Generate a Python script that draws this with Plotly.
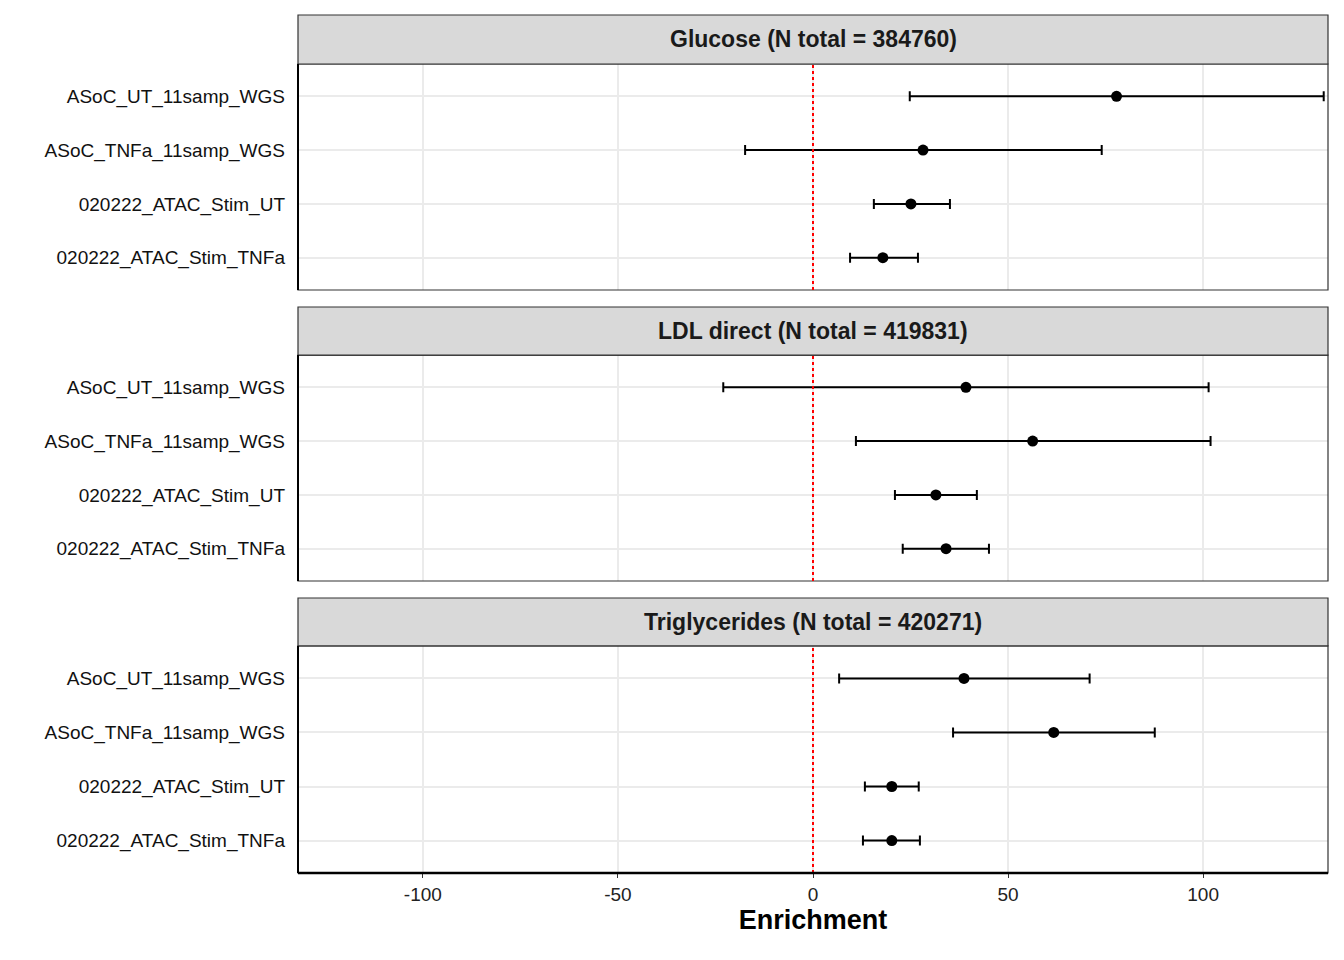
import plotly.graph_objects as go

# Data
samples = ["ASoC_UT_11samp_WGS", "ASoC_TNFa_11samp_WGS", "020222_ATAC_Stim_UT", "020222_ATAC_Stim_TNFa"]
traits = ["Glucose (N total = 384760)", "LDL direct (N total = 419831)", "Triglycerides (N total = 420271)"]
xticks = [-100, -50, 0, 50, 100]
xtick_labels = ["-100", "-50", "0", "50", "100"]

glucose_est = [77.8, 28.2, 25.1, 17.9]
glucose_lo = [24.8, -17.4, 15.6, 9.5]
glucose_hi = [130.9, 74.0, 35.1, 26.9]

ldl_est = [39.2, 56.3, 31.5, 34.1]
ldl_lo = [-23.0, 11.0, 21.0, 23.0]
ldl_hi = [101.4, 101.9, 42.0, 45.1]

tg_est = [38.7, 61.7, 20.2, 20.2]
tg_lo = [6.7, 35.9, 13.3, 12.8]
tg_hi = [70.9, 87.6, 27.1, 27.4]

panels = [(glucose_est, glucose_lo, glucose_hi),
          (ldl_est, ldl_lo, ldl_hi),
          (tg_est, tg_lo, tg_hi)]

# panel domains (plot area, strip) in paper coords
plot_domains = [(0.6795, 0.9429), (0.3403, 0.6037), (0.0, 0.2646)]
strip_tops = [1.0, 0.6597, 0.3205]

FONT = "Liberation Sans, Arial, sans-serif"
fig = go.Figure()

for i, (est, lo, hi) in enumerate(panels):
    n = i + 1
    xa = "x" if n == 1 else f"x{n}"
    ya = "y" if n == 1 else f"y{n}"
    fig.add_trace(go.Scatter(
        x=est, y=samples, mode="markers", xaxis=xa, yaxis=ya,
        marker=dict(color="black", size=11),
        error_x=dict(type="data", symmetric=False,
                     array=[h - e for h, e in zip(hi, est)],
                     arrayminus=[e - l for e, l in zip(est, lo)],
                     color="black", thickness=2, width=5),
        showlegend=False))
    d0, d1 = plot_domains[i]
    xkey = "xaxis" if n == 1 else f"xaxis{n}"
    ykey = "yaxis" if n == 1 else f"yaxis{n}"
    fig.update_layout(**{
        xkey: dict(domain=[0, 1], anchor=ya, range=[-132, 132],
                   tickvals=xticks, ticktext=xtick_labels, showticklabels=(n == 3),
                   matches=None if n == 1 else "x",
                   showgrid=True, gridcolor="#ebebeb", gridwidth=1.5, zeroline=False,
                   showline=False, ticks="outside" if n == 3 else "",
                   tickcolor="#333", ticklen=4,
                   tickfont=dict(size=19, color="#222", family=FONT),
                   title=dict(text="<b>Enrichment</b>", standoff=6,
                              font=dict(size=27, color="black", family=FONT)) if n == 3 else None),
        ykey: dict(domain=[d0, d1], anchor=xa, type="category",
                   categoryorder="array", categoryarray=samples,
                   range=[3.6, -0.6], showgrid=True, gridcolor="#ebebeb", gridwidth=1.5,
                   zeroline=False, ticks="", ticklabelstandoff=12,
                   tickfont=dict(size=19, color="#111", family=FONT)),
    })
    # panel border
    fig.add_shape(type="rect", xref="paper", yref="paper", x0=0, x1=1, y0=d0, y1=d1,
                  line=dict(color="#333", width=1.2), fillcolor="rgba(0,0,0,0)")
    # strip
    fig.add_shape(type="rect", xref="paper", yref="paper", x0=0, x1=1, y0=d1, y1=strip_tops[i],
                  line=dict(color="#333", width=1.2), fillcolor="#d9d9d9")
    fig.add_annotation(text=f"<b>{traits[i]}</b>", xref="paper", yref="paper",
                       x=0.5, y=(d1 + strip_tops[i]) / 2, yanchor="middle", xanchor="center",
                       showarrow=False, font=dict(size=23, color="#1a1a1a", family=FONT))
    # reference line at 0
    fig.add_shape(type="line", xref=xa, yref=f"{ya} domain", x0=0, x1=0, y0=0, y1=1,
                  line=dict(color="red", width=2, dash="dot"))
    # thick left/bottom axis lines
    fig.add_shape(type="line", xref="paper", yref="paper", x0=0, x1=0, y0=d0, y1=d1,
                  line=dict(color="black", width=2))
    if n == 3:
        fig.add_shape(type="line", xref="paper", yref="paper", x0=0, x1=1, y0=0, y1=0,
                      line=dict(color="black", width=2.5))

fig.update_layout(width=1344, height=960, plot_bgcolor="white", paper_bgcolor="white",
                  margin=dict(l=290, r=24, t=7, b=95), font=dict(family=FONT))
fig.write_html("out.html")
